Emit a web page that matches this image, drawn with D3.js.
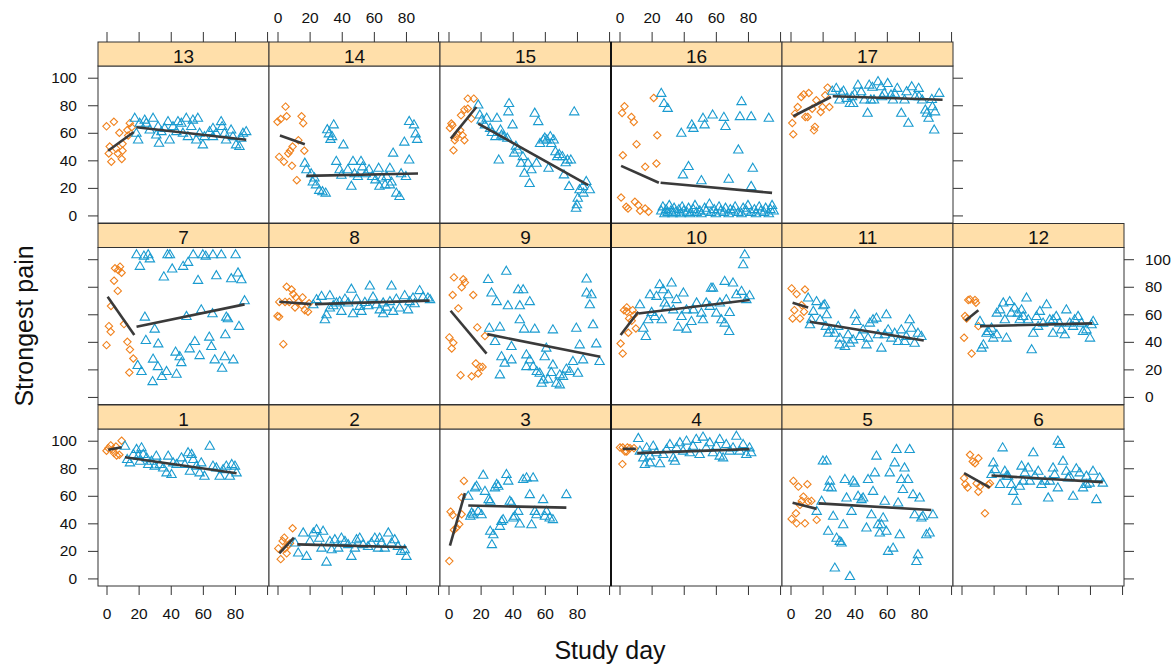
<!DOCTYPE html>
<html><head><meta charset="utf-8">
<script src="https://cdn.jsdelivr.net/npm/d3@7"></script>
<style>
html,body{margin:0;padding:0;background:#fff;}
svg{display:block;font-family:"Liberation Sans",Arial,sans-serif;}
</style></head><body>
<svg id="chart" width="1174" height="665"></svg>
<script>
// ---------- DATA: [study day, strongest pain] ----------
const panelIds = [1,2,3,4,5,6,7,8,9,10,11,12,13,14,15,16,17];
const xTicks = [0,20,40,60,80,100];
const yTicks = [0,20,40,60,80,100];

const pre1 = [[0,92.7],[1.1,94.6],[2.6,96.6],[3.8,93.4],[4.7,91],[6.3,89.3],[8,89.8],[9.4,100],[5.9,95.8]];
const post1 = [[11.5,95.8],[12.9,86.1],[14.6,83.7],[16.7,89.8],[18.7,93.4],[19.8,88.6],[21.8,94.6],[20.8,84.9],[22.9,89.8],[25,87.3],[26,82.5],[28,84.9],[31,88.6],[33.2,82.5],[35.3,80],[37.4,76.4],[38.4,88.6],[40.5,75.2],[41.5,83.7],[43.6,82.5],[46.7,87.3],[48.8,82.5],[50.8,91],[52,77.6],[54,86.1],[56,81.3],[58,76.4],[59,83.7],[61,74],[64.3,95.8],[66.3,81.3],[68.4,80],[70.5,74],[72.6,78.8],[74.6,81.3],[76.8,74],[78,82.5],[80,81.3],[81,76.4],[53,89.8],[30,81.3]];
const pre2 = [[0.5,21.8],[2,14],[3.2,27.2],[4.2,29.6],[5.7,18.2],[6.7,24.3],[9.4,36.4],[7.8,25.5],[4.7,21.8]];
const post2 = [[10.9,25.5],[12.9,18.2],[16,32.8],[18.1,15.8],[20.2,26.7],[22.3,32.8],[24.3,35.2],[26,29],[27.4,21.8],[30.5,11.6],[32.6,26.7],[33.7,20.6],[35.7,27.9],[37.8,21.8],[39.8,29],[42,26.7],[44,24.3],[46,15.8],[48.2,21.8],[51.2,29],[53.3,24.3],[56.4,23],[58.5,25.5],[60.6,29],[62.6,21.8],[64.7,25.5],[66.8,21.8],[69,32.8],[71,25.5],[73,27.9],[75,23],[77,19.4],[79.2,20.6],[80.3,15.8],[28.4,34],[49.2,27.9],[63.6,29]];
const pre3 = [[0.5,12.6],[1.3,48.5],[2.6,46],[3.4,35.2],[5,36.9],[6.7,39.3],[8.2,46.6],[8.2,58.7],[9.6,70.8]];
const post3 = [[12.3,59.4],[13.6,44.9],[15.4,46],[16.5,65.5],[17.5,66.7],[18.5,48.5],[20.6,46],[21.6,74.7],[22.7,63],[25,57],[26,55.8],[26,34],[27,24.3],[27.9,31.5],[28.9,65.5],[31,66.7],[32,37.6],[33,41.2],[34,42.5],[36.1,75.2],[37.2,70.4],[38.2,55.8],[39.2,54.6],[40.3,43.7],[41.3,44.9],[43.4,48.5],[44.4,39.3],[46.5,71.6],[48.6,72.8],[50.6,60.6],[51.7,38.8],[52.7,72.8],[53.8,48.5],[54.8,46],[58.9,57],[60,44.9],[61,48.5],[63,43.7],[65,42.5],[73.4,60.6],[14.4,47.3],[30,68]];
const pre4 = [[0.3,95.1],[2,95.1],[3.4,92.2],[4.9,95.1],[6.5,94.6],[9,94.6],[1.8,83],[4.5,92.2]];
const post4 = [[11.7,101.4],[12.7,92.2],[14.8,87.3],[15.8,82.5],[16.9,94.6],[19,88.6],[21,95.8],[23,91],[25.2,83],[27.2,89.8],[29.3,93.4],[31.4,97],[33.5,87.3],[35.5,94.6],[37.6,98.3],[39.6,92.2],[41.7,99.5],[43.8,91],[45.8,95.8],[47.8,100.7],[49.9,89.8],[52,102.4],[54,94.6],[56.2,98.3],[58.2,91],[60.3,95.8],[62.4,100.7],[64.5,87.3],[66.5,97],[68.6,92.2],[70.7,94.6],[72.8,103],[74.8,92.2],[77,97],[79,89.8],[81,94.6],[82,91],[19,83.7],[34.5,84.9],[62.4,88.6]];
const pre5 = [[1.8,70.8],[4.9,66.7],[10.5,68.4],[8,59.4],[0.7,43.2],[3.4,47.3],[3.8,40],[9,40],[11,55.8],[13,56.3],[16.3,42.5],[7,56.3],[5.9,53.4]];
const post5 = [[16.3,48.5],[23.5,66],[20.2,85],[22.4,85],[19.4,55.8],[23.5,34],[24.5,70.4],[25.6,65.5],[26.6,44.9],[27.6,7.3],[28.7,29],[30.7,26.7],[31.8,25.5],[32.8,38.8],[33.9,71.6],[34.9,58.2],[37,1.2],[38,48.5],[39,70.4],[40,69],[42.1,59.4],[44.2,57],[45.2,58.2],[47.3,36.4],[48.3,71.6],[50.4,46],[51.4,63],[52.5,76.4],[53.5,88.6],[54.5,38.8],[55.6,32.8],[57.7,43.7],[58.7,55.8],[59.7,34],[60.8,19.4],[61.8,76.4],[63.9,21.8],[64.9,83.7],[66,93.4],[67,54.6],[68,31.5],[69,71.6],[70,64.3],[71,80],[73.2,71.6],[74.2,93.4],[76.3,60.6],[77.3,46],[79.4,17],[80.4,58.2],[81.5,43.7],[82.5,44.9],[84.6,31.5],[86.6,32.8],[88.7,46],[78.4,12.1],[56.6,38.8]];
const pre6 = [[1.6,72.8],[2.4,68.4],[3.8,66],[5.3,89.8],[7,84.9],[8.4,83.7],[10.5,87.3],[9.4,69],[11.5,66.7],[10.5,63],[14.6,47.3],[16.7,68],[17.7,69]];
const post6 = [[18.7,75.2],[19.8,83.7],[20.8,78.8],[24,68],[25.6,94.6],[27,77.6],[29,74],[31,68],[32.2,63],[34.3,55.8],[36.3,66.7],[37.4,81.3],[39.4,76.4],[41.5,80],[42.6,70.4],[44.7,91],[45.7,74],[47.8,77.6],[49.8,68],[51.9,70.4],[54,58.2],[57,80],[58,75.2],[60,99.5],[61.2,97],[60,65.5],[63.2,84.9],[65.3,77.6],[67.4,74],[69.5,59.4],[71.5,79.4],[73.6,76.4],[75.7,65.5],[77.8,74],[79.8,69],[81.9,77.6],[84,57],[86,72.8],[88,69],[28,74],[38.4,70.4],[55,70.4],[66.4,72.8],[77.8,68]];
const pre7 = [[0,37.6],[1.5,51.4],[2.6,47.3],[2.8,66],[4.7,84.4],[5.3,93.4],[7.3,92.2],[9.4,90.2],[8.4,94.6],[7,77],[10.9,52.9],[13,40],[14.6,34.4],[16.7,27.9],[14.2,17.7]];
const post7 = [[18.7,103],[20.8,94.6],[23.3,102],[27,100],[26,103],[38,103],[39.5,103],[35.7,86.9],[40.9,92.7],[47.7,94.6],[50.8,97.5],[54,103],[60,103],[61.8,102],[66.3,103],[71.5,103],[80.4,103],[57,84.4],[68.4,87.8],[77.7,85.6],[81.9,89.8],[84,84.9],[86,69.6],[23.9,57.7],[30,49],[24.5,40.8],[32.2,38.3],[19.4,22.6],[21.8,18.2],[29,27.2],[32,21.8],[34.5,14.6],[37.4,18.2],[28.7,10.9],[43.6,16.3],[43,32.3],[45.6,29],[46.6,24.7],[51.8,34.7],[55,40],[58,29.8],[49.8,58.2],[59,63],[66,60.2],[64,43.2],[65.3,36.4],[74.6,57.7],[75.6,56.5],[74,44.9],[82.5,51],[67.4,26.7],[73.6,29],[72,20.6],[79,26.7]];
const pre8 = [[1.1,69],[0,58.7],[5.7,80],[3.6,38.3],[8.8,78],[9.8,74.7],[11.5,72.3],[13,69],[15.6,72.3],[15,66.7],[17,63],[19,61.9],[7.3,69],[4.7,69],[10.9,65],[1,58.2],[19.7,68]];
const post8 = [[22.3,66.7],[24.3,70.4],[27.4,72.8],[29.5,55.8],[30.5,59.4],[32.6,73.3],[34.7,66],[36.7,68],[39.8,61.9],[42,70.8],[44,68],[46,78],[47,60.2],[49.2,70.8],[52.3,61.9],[54.4,68.4],[57.5,80.3],[59.5,72.3],[61.6,66.7],[63.7,63],[65.8,60.2],[67.8,65],[71,80.3],[70,69],[74,70.8],[76,64.3],[79.2,73.3],[81.3,63],[82.3,69],[85.4,67.4],[88.5,77],[90.6,72.3],[93.7,71.6],[95,70.4],[38.7,69],[56.6,66],[65.8,68],[51.2,65.5],[84.4,71.6],[32.6,64.3],[72,61.9]];
const pre9 = [[3.4,86.8],[9.2,85.4],[10.2,83],[8.2,79.6],[2.6,74],[15.4,74],[6.1,64.3],[17.9,50.5],[0.5,43.2],[3,39.3],[2,35.2],[22.7,44.2],[17,24.3],[19.6,21.8],[21.2,21.8],[18.5,17],[14.4,15],[7.5,15.8]];
const post9 = [[24.7,85],[36,91],[26.8,75.2],[30,69],[37,66],[43.4,77.6],[46.5,77.6],[44.4,66],[50.6,69],[25.4,49.7],[32,50.5],[29,40],[39.2,36.4],[44.4,55.8],[47.1,49],[53.7,49],[65,48.5],[33,29],[35,24.3],[39.2,26.7],[32,15.8],[48.5,30.3],[50.6,26.7],[48.5,21.8],[52.7,21.8],[56.8,17],[59.9,29],[60.9,35.2],[55,18.2],[59,12.1],[62,12.6],[65,23],[67.2,9.7],[69.3,8.5],[71.3,14.6],[73.4,20],[75.5,18.2],[79.6,49.7],[81.7,37.6],[77.5,25.5],[80.6,17],[83.8,26.7],[90,52.2],[92,38.3],[94.1,25.5],[86,85.4],[86,75.2],[88,66.7],[89,74],[64,17.5],[58,9.7],[69.3,15.8]];
const pre10 = [[0.7,38.8],[2,31.5],[2.8,63],[4.5,62],[6,57],[7.6,55.3],[8.2,63],[10.2,49.7],[5.5,46.6],[9,59.4],[4.5,65]];
const post10 = [[12.7,66.7],[14.8,49.7],[16.4,43.7],[17.9,55.8],[20,61.1],[23,72.8],[25,81.3],[27.2,77.6],[28.2,68],[30.3,74],[32.4,82.5],[35.5,70.4],[36.6,50.5],[39.8,75.2],[41.7,49],[41.7,63],[44.8,54.6],[48,68],[51,60.6],[54,68],[57,78.8],[58.2,78.8],[60.3,60.6],[62.5,68],[65.5,83.7],[66.5,70.4],[68.6,61.1],[65.5,53.4],[68.3,47.3],[70.7,82.5],[72.8,74],[76,76.4],[77,95.8],[78,103],[79,70.4],[81,73.3],[26.3,55.8],[33.5,63],[38.6,58.2],[46,63],[52,55.8],[56.2,65.5],[63.5,55.8],[29.3,65.5],[19,74],[22,58.2]];
const pre11 = [[0.7,78.8],[3.8,74.7],[9,78],[2.4,63],[1.3,57],[5.9,57],[8.4,61.9],[6.9,66.7]];
const post11 = [[11,71.6],[16.2,69],[21.4,66.7],[14.2,61.9],[13,55.8],[18.4,55.8],[12.1,52.2],[22,51],[23.5,46],[20.4,66],[22.5,59.4],[24.5,48.5],[27.6,46],[29.7,51],[30.7,42.5],[33.9,36.4],[35.9,44.9],[37,38.8],[40.1,59.4],[41.1,54.6],[43.2,43.7],[45.2,48.5],[48.3,42.5],[49.4,53.4],[51.4,55.8],[53.5,57],[54.5,44.9],[56.6,35.2],[59.7,59.4],[60.8,48.5],[62.8,42.5],[64.9,46],[67,40],[69,48.5],[71.1,40],[74.2,55.8],[75.3,49.7],[77.3,38.8],[79.4,46],[81.5,43.7],[39,41.2],[47.3,37.6],[30.7,37.6],[72.1,43.7],[58.7,44.9]];
const pre12 = [[1.6,43],[2.2,58.7],[4.2,70.4],[5.3,70.8],[8.4,70.4],[9,68.4],[6.3,31.5],[3.2,57],[10.5,51.4]];
const post12 = [[11.5,54.6],[12.5,35.2],[13.6,37.6],[15.6,46],[16.7,47.3],[18.7,49.7],[19.8,42.5],[22,60.6],[24,63],[26,68],[28,42.5],[30,69],[31,60.6],[33,64.3],[35,60.6],[37.4,63],[38.4,58.2],[40.5,71.6],[41.6,55.8],[43.7,34],[44.7,46],[46.7,58.2],[48.8,61.9],[50.8,53.4],[53,66.7],[55,55.8],[57,46],[59,58.2],[61,53.4],[64.3,44.9],[65.3,63],[67.4,53.4],[70.5,55.8],[72.6,58.2],[74.7,53.4],[77.8,48.5],[80,42.5],[81,52.2],[82,54.6],[22,44.9],[27,55.8],[36.3,55.8],[47.7,51],[62.2,48.5],[75.7,47.3],[69.5,51],[57,55.8]];
const pre13 = [[0,64.7],[4.6,68],[2,50],[1.4,45],[3,39],[8,60],[7,45],[9.5,41],[10,47],[13,62],[10,52],[14.5,67],[15.7,64],[13.5,58],[6,48.5]];
const post13 = [[17.6,70.3],[20.7,66.7],[19.7,54.6],[23.8,69],[24.8,66.7],[29,70.3],[26.9,61.8],[32.1,64.3],[32.7,52.2],[34.2,60.6],[38.3,67.9],[39.3,54.6],[41.4,64.3],[43.5,60.6],[44.5,67.9],[46.6,66.7],[49.7,70.3],[50.7,57],[52.8,64.3],[53.8,69],[56.9,70.3],[58,59.4],[60,51],[61,57],[64.2,60.6],[66.3,57],[68.3,59.4],[71.4,67.9],[72,64.3],[73.5,59.4],[77.6,61.8],[78.7,57],[80.7,51],[82.8,49.8],[83.9,55.8],[87,60.6],[18.6,59.4],[31,58.2],[55.9,54.6],[66.3,63],[74.5,54.6],[85,59.4],[47.6,59.4],[36.2,63]];
const pre14 = [[0,68],[2,70],[5,79],[5.7,72],[1,42.5],[4,39],[9,36],[12,25.6],[7.8,47],[9.4,50],[13,54.6],[15,72],[16,67],[16.7,47],[6.7,45]];
const post14 = [[17,37.7],[18,33],[21,30],[23,27],[24,22],[26,18],[28,17],[30,16],[22,24],[31,62],[32,59],[33,55],[35,65.5],[34,57],[41,51],[36.6,39],[39.8,29],[38.7,33],[43.8,33],[46,21],[47,39],[48,30],[50,28],[52,39],[53,35],[55,30],[57,33],[59,28],[61,25.6],[63,34],[65,27],[67,22],[68,28],[70,34],[71,24],[72,45],[74,16],[76,13.5],[77,30],[79,53],[80,28],[82,40],[82,68],[85,65.5],[86,59],[87,55],[70,22],[63.5,21]];
const pre15 = [[0.9,63.5],[1.8,66.7],[3.1,47.3],[3.9,54.6],[5.6,59.4],[7.8,72.7],[9.9,76.8],[12,84.8],[15.7,84.8],[8.8,58.2],[7.3,61.8],[9.9,54.6],[14.2,70.3],[12,77.5],[2.4,65.5],[4.6,57]];
const post15 = [[18.5,80],[19.5,72.7],[20.6,69],[23.8,70.3],[22.7,65.5],[25.9,63],[30.2,70.3],[29.2,57],[32.4,61.8],[34.5,57],[37.7,81],[37.3,75],[39.9,65.5],[36.6,55.8],[31.3,40],[40.9,45],[43,47.3],[45.2,37.7],[46.3,42.5],[49.5,37.7],[47.3,30.4],[50.5,23],[51.6,32.9],[54.8,37.7],[53.7,74],[55.9,67.9],[59.1,54.6],[61.2,54.6],[63.4,57],[65.5,54.6],[62.3,34],[66.6,46],[67.7,42.5],[70.9,42.5],[71.9,29.2],[74.1,40],[76.2,40],[75.1,20.8],[78.3,75],[80.5,12.3],[81.6,18.4],[83.7,20.8],[85.8,24.4],[88,18.4],[80,7.5],[79.4,5],[27,60],[33,58],[42,50],[57,52],[60,56],[64,52],[69,44],[73,38],[84,16]];
const pre16 = [[2.1,43.7],[3.1,79.2],[1.6,74.4],[7.4,71.5],[8.9,67.9],[10.6,51.7],[16,35.3],[21.3,85.3],[23.5,58.2],[23,37.7],[1,13],[4.2,6.3],[5.3,5],[9.6,9.9],[12.8,3.4],[16,5],[18.1,2.7],[11.7,7.5]];
const post16 = [[26,88.4],[27.7,81],[30,77.5],[38.5,59.4],[45,65.5],[46,63],[52,70.3],[53,65.5],[58,72.7],[65,71],[66,64.3],[74,47.3],[76,82.4],[75,71.5],[82,71.5],[93,70.3],[83,34],[82,20.8],[68,26],[51,25],[43,35.3],[39.5,29.2],
  [26,3],[27,6],[28,1],[29,4],[30,2],[31,7],[32,3],[33,1],[34,5],[35,2],[37,4],[38,1],[39,6],[40,3],[42,2],[43,5],[44,1],[46,4],[47,7],[48,2],[50,3],[51,1],[53,5],[54,3],[56,8],[57,2],[59,4],[60,1],[62,6],[63,3],[65,2],[66,5],[68,1],[69,4],[71,3],[72,6],[74,2],[76,1],[77,5],[79,3],[80,7],[82,2],[84,4],[85,1],[87,6],[88,3],[90,2],[91,5],[93,1],[94,4],[95,7],[96,3]];
const pre17 = [[1.1,67.1],[1.7,58.9],[2.8,73.9],[4.5,78.7],[6.7,86],[8.2,87.9],[11.4,88.9],[9.2,71.5],[10.7,71.5],[14.6,61.8],[15.2,64.3],[18.8,75.1],[19.9,78.7],[21.6,87.2],[23.1,92.8],[24.2,78.7],[16.1,83.6],[13.5,77.5]];
const post17 = [[26,90],[28.5,92],[30.5,83.6],[31.7,88.4],[35,84.8],[37,81],[38.3,86],[42,94.4],[44,89.6],[46,83.6],[48,74],[49,94.4],[51,92.8],[52,83.6],[54.5,96.9],[56.5,93.2],[58.4,88.4],[60.5,95.6],[62.6,87.2],[63.8,83.6],[66.5,92],[69,74],[71,83.6],[72.3,89.6],[73.4,66.7],[75.5,93.2],[77.6,86],[79.8,92],[82,83.6],[84,76.3],[86,70.3],[88.4,78.7],[89.5,61.8],[92.6,88.4],[85,74],[90,75],[39,81],[50,83.6],[33,90],[40,88],[57,86],[65,88],[80,86],[88,84]];

// fitted lines per panel (1..17): [startDay, startValue, endDay, endValue]
const fitPre = [[1.1,93.4,9.4,95.3],[1.1,18.2,10.2,29.6],[0.9,23.8,10.2,61.9],[2,94.1,10.2,94.1],[1.3,55,16.3,50.5],[1.6,76.4,17.7,66],
  [0.7,72.8,17.3,44.9],[1.1,69.1,21,67.4],[1.3,62.6,23.7,31.5],[0.7,44.9,11.7,61.9],[1.3,68.4,11,65],[2.4,55.3,10.5,63],
  [1,47,17,60.6],[1.5,58,17,51.7],[1.4,55.8,17.4,78.7],[1,36,24.5,23.7],[1.7,72,25.2,86]];
const fitPost = [[11.5,88,81,76.4],[12.3,24.7,80.3,22.6],[12.3,52.9,73.4,51.4],[11,91,81,93.9],[17.5,54.5,87.7,49.7],[18.7,74.7,88,69.9],
  [18.7,51,86,67.2],[23.3,67.4,94.7,69.9],[24.1,45.6,94.5,29.1],[11.7,60.6,81,70.4],[12,54.6,83,41],[11.5,51.4,81.5,53.4],
  [18.6,64,87,55],[18,28.7,87.5,30.4],[18.5,66.7,87,22],[25.6,23.7,95,16.4],[26.3,86.5,94.7,84]];

const preData = [pre1,pre2,pre3,pre4,pre5,pre6,pre7,pre8,pre9,pre10,pre11,pre12,pre13,pre14,pre15,pre16,pre17];
const postData = [post1,post2,post3,post4,post5,post6,post7,post8,post9,post10,post11,post12,post13,post14,post15,post16,post17];

// ---------- LAYOUT ----------
const colX0 = 98, colW = 171, rowY0 = 42, rowPitch = 181.5, stripH = 24, panelH = 157;
const ORANGE = "#F0821E", BLUE = "#1A9BD0", LINE = "#3a3a3a", BORDER = "#333";
const STRIP = "#FFDFAA";
const xDomain = [-5.3, 101.2], yDomain = [-5.5, 108.5];

function gridPos(n){
  if (n <= 6) return {row:2, col:n-1};
  if (n <= 12) return {row:1, col:n-7};
  return {row:0, col:n-13};
}
function geom(row, col){
  const x0 = colX0 + col*colW;
  const sTop = rowY0 + row*rowPitch;
  const pTop = sTop + stripH;
  const pBot = pTop + panelH;
  return {x0, x1:x0+colW, sTop, pTop, pBot,
    x: d3.scaleLinear().domain(xDomain).range([x0, x0+colW]),
    y: d3.scaleLinear().domain(yDomain).range([pBot, pTop])};
}

const svg = d3.select("#chart");
const diamond = "M0,-3.7L3.7,0L0,3.7L-3.7,0Z";
const triangle = "M0,-5.4L4.7,2.7L-4.7,2.7Z";

panelIds.forEach((id, i) => {
  const {row, col} = gridPos(id);
  const g = geom(row, col);
  const pg = svg.append("g");
  pg.append("rect").attr("x", g.x0).attr("y", g.pTop).attr("width", colW).attr("height", panelH)
    .attr("fill", "#fff").attr("stroke", "none");
  pg.selectAll("path.pre").data(preData[i]).join("path").attr("class","pre")
    .attr("d", diamond).attr("transform", d => `translate(${g.x(d[0])},${g.y(d[1])})`)
    .attr("fill", "none").attr("stroke", ORANGE).attr("stroke-width", 1.1);
  pg.selectAll("path.post").data(postData[i]).join("path").attr("class","post")
    .attr("d", triangle).attr("transform", d => `translate(${g.x(d[0])},${g.y(d[1])})`)
    .attr("fill", "none").attr("stroke", BLUE).attr("stroke-width", 1.1);
  [fitPre[i], fitPost[i]].forEach(f => {
    pg.append("line").attr("x1", g.x(f[0])).attr("y1", g.y(f[1])).attr("x2", g.x(f[2])).attr("y2", g.y(f[3]))
      .attr("stroke", LINE).attr("stroke-width", 2.6).attr("stroke-linecap", "butt");
  });
  pg.append("rect").attr("x", g.x0).attr("y", g.pTop).attr("width", colW).attr("height", panelH)
    .attr("fill", "none").attr("stroke", BORDER).attr("stroke-width", 1);
  // strip
  pg.append("rect").attr("x", g.x0).attr("y", g.sTop).attr("width", colW).attr("height", stripH)
    .attr("fill", STRIP).attr("stroke", BORDER).attr("stroke-width", 1);
  pg.append("text").attr("x", g.x0 + colW/2).attr("y", g.sTop + 20.5).attr("text-anchor", "middle")
    .attr("font-size", "19px").attr("fill", "#111").text(id);
});

// heavier column boundary between columns 3 and 4 (as rendered in the reference)
const gb = geom(0, 3), gbBot = geom(2, 3);
svg.append("line").attr("x1", gb.x0).attr("x2", gb.x0).attr("y1", gb.sTop).attr("y2", gbBot.pBot)
  .attr("stroke", "#111").attr("stroke-width", 2);

// ---------- AXES ----------
function styleAxis(sel){
  sel.select(".domain").remove();
  sel.selectAll(".tick line").attr("stroke", BORDER);
  sel.selectAll(".tick text").attr("font-size", "15.5px").attr("fill", "#111")
    .attr("font-family", '"Liberation Sans",Arial,sans-serif');
}
const fmtX = show => (d => show && d !== 100 ? d : "");
// bottom axes (row 2, all columns)
for (let c = 0; c < 6; c++){
  const g = geom(2, c);
  const ax = d3.axisBottom(g.x).tickValues(xTicks).tickSize(9).tickPadding(13).tickFormat(fmtX(c % 2 === 0));
  svg.append("g").attr("transform", `translate(0,${g.pBot})`).call(ax).call(styleAxis);
}
// top axes (row 0, columns 0..4)
for (let c = 0; c < 5; c++){
  const g = geom(0, c);
  const ax = d3.axisTop(g.x).tickValues(xTicks).tickSize(10).tickPadding(9).tickFormat(fmtX(c % 2 === 1));
  svg.append("g").attr("transform", `translate(0,${g.sTop})`).call(ax).call(styleAxis);
}
// left axes
for (let r = 0; r < 3; r++){
  const g = geom(r, 0);
  const ax = d3.axisLeft(g.y).tickValues(yTicks).tickSize(10).tickPadding(11).tickFormat(r === 1 ? () => "" : d => d);
  svg.append("g").attr("transform", `translate(${g.x0},0)`).call(ax).call(styleAxis);
}
// right axes
[[0,4],[1,5],[2,5]].forEach(([r,c]) => {
  const g = geom(r, c);
  const ax = d3.axisRight(g.y).tickValues(yTicks).tickSize(10).tickPadding(11).tickFormat(r === 1 ? d => d : () => "");
  svg.append("g").attr("transform", `translate(${g.x1},0)`).call(ax).call(styleAxis);
});

// titles
svg.append("text").attr("x", 610).attr("y", 659).attr("text-anchor", "middle")
  .attr("font-size", "25px").attr("fill", "#111").text("Study day");
svg.append("text").attr("transform", "translate(33,326) rotate(-90)").attr("text-anchor", "middle")
  .attr("font-size", "25px").attr("fill", "#111").text("Strongest pain");
</script>
</body></html>
